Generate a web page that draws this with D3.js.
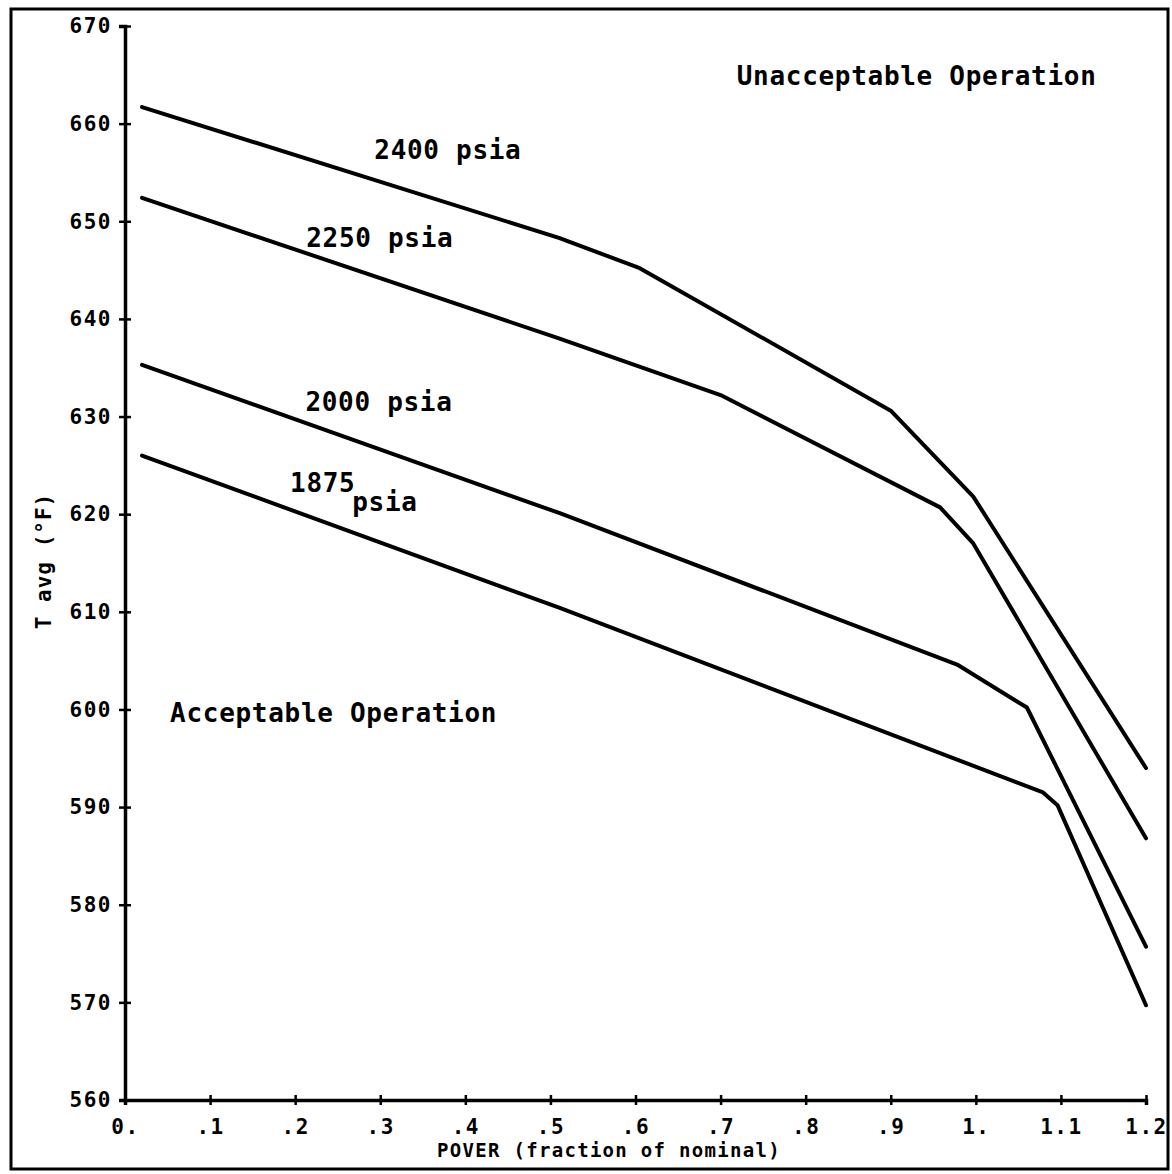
<!DOCTYPE html>
<html lang="en">
<head>
    <meta charset="UTF-8">
    <title>T avg vs power</title>
    <script src="https://d3js.org/d3.v7.min.js"></script>
    <style>
        body { margin: 0; background: #fff; }
        text { font-family: "DejaVu Sans Mono", monospace; font-weight: bold; fill: #000; }
    </style>
</head>
<body>
    <div id="plot"></div>

    <script>
        // values
        let pressures = ['2400', '2250', '2000', '1875'];
        let power2400 = [0.02, 0.51, 0.605, 0.90, 0.997, 1.20];
        let temp2400  = [661.7, 648.3, 645.2, 630.6, 621.8, 594.0];
        let power2250 = [0.02, 0.51, 0.70, 0.958, 0.997, 1.20];
        let temp2250  = [652.4, 638.0, 632.2, 620.7, 617.0, 586.8];
        let power2000 = [0.02, 0.511, 0.978, 1.06, 1.20];
        let temp2000  = [635.3, 620.1, 604.6, 600.2, 575.7];
        let power1875 = [0.02, 0.511, 1.079, 1.096, 1.20];
        let temp1875  = [626.0, 610.4, 591.5, 590.2, 569.7];

        let xTicks = [0, 0.1, 0.2, 0.3, 0.4, 0.5, 0.6, 0.7, 0.8, 0.9, 1.0, 1.1, 1.2];
        let xTickLabels = ['0.', '.1', '.2', '.3', '.4', '.5', '.6', '.7', '.8', '.9', '1.', '1.1', '1.2'];
        let yTicks = [560, 570, 580, 590, 600, 610, 620, 630, 640, 650, 660, 670];

        function translate(x, y) {
            return 'translate(' + x + ', ' + y + ')';
        }

        let svgWidth = 1172;
        let svgHeight = 1174;

        let svg = d3.select('#plot')
                    .append('svg')
                        .attr('width', svgWidth)
                        .attr('height', svgHeight);

        // frame around the whole figure
        svg.append('rect')
            .attr('x', 11).attr('y', 9)
            .attr('width', 1157).attr('height', 1160)
            .attr('fill', 'none')
            .attr('stroke', '#000')
            .attr('stroke-width', 3);

        let x = d3.scaleLinear().domain([0, 1.2]).range([125, 1146]);
        let y = d3.scaleLinear().domain([560, 670]).range([1100, 26]);

        let xAxis = d3.axisBottom(x)
                        .tickValues(xTicks)
                        .tickFormat((d, i) => xTickLabels[i])
                        .tickSize(5)
                        .tickPadding(14);
        let yAxis = d3.axisLeft(y)
                        .tickValues(yTicks)
                        .tickFormat(d3.format('d'))
                        .tickSize(6)
                        .tickPadding(7);

        let gx = svg.append('g')
            .attr('transform', translate(0, y(560)))
            .call(xAxis);
        let gy = svg.append('g')
            .attr('transform', translate(x(0), 0))
            .call(yAxis);

        [gx, gy].forEach(function(g) {
            g.select('.domain').attr('stroke-width', 3.5);
            g.selectAll('.tick line').attr('stroke-width', 2.5);
            g.selectAll('.tick text')
                .style('font-size', '21px')
                .style('letter-spacing', '1.5px');
        });
        // ticks cross the axis lines
        gx.selectAll('.tick line').attr('y1', -5);
        gy.selectAll('.tick line').attr('x2', 6).attr('x1', -6);

        // axis titles
        svg.append('text')
            .attr('x', 609)
            .attr('y', 1157)
            .attr('text-anchor', 'middle')
            .style('font-size', '19px')
            .style('letter-spacing', '1.3px')
            .text('POVER (fraction of nominal)');

        svg.append('text')
            .attr('transform', translate(51, 561) + ' rotate(-90)')
            .attr('text-anchor', 'middle')
            .style('font-size', '21px')
            .style('letter-spacing', '1px')
            .text('T avg (°F)');

        // curves
        let series = [
            {name: '2400', px: power2400, py: temp2400},
            {name: '2250', px: power2250, py: temp2250},
            {name: '2000', px: power2000, py: temp2000},
            {name: '1875', px: power1875, py: temp1875}
        ];

        let line = d3.line()
                    .x(d => x(d[0]))
                    .y(d => y(d[1]));

        svg.selectAll('path.curve')
            .data(series)
            .enter()
            .append('path')
            .attr('class', 'curve')
            .attr('d', s => line(d3.zip(s.px, s.py)))
            .attr('fill', 'none')
            .attr('stroke', '#000')
            .attr('stroke-width', 4)
            .attr('stroke-linejoin', 'round')
            .attr('stroke-linecap', 'round');

        // annotations
        let notes = [
            {t: '2400 psia', px: 0.293, py: 656.4},
            {t: '2250 psia', px: 0.213, py: 647.4},
            {t: '2000 psia', px: 0.212, py: 630.6},
            {t: '1875', px: 0.194, py: 622.3},
            {t: 'psia', px: 0.267, py: 620.3},
            {t: 'Unacceptable Operation', px: 0.719, py: 664.0},
            {t: 'Acceptable Operation', px: 0.053, py: 598.7}
        ];

        svg.selectAll('text.note')
            .data(notes)
            .enter()
            .append('text')
            .attr('class', 'note')
            .attr('x', d => x(d.px))
            .attr('y', d => y(d.py))
            .style('font-size', '26px')
            .style('letter-spacing', '0.7px')
            .text(d => d.t);
    </script>
</body>
</html>
